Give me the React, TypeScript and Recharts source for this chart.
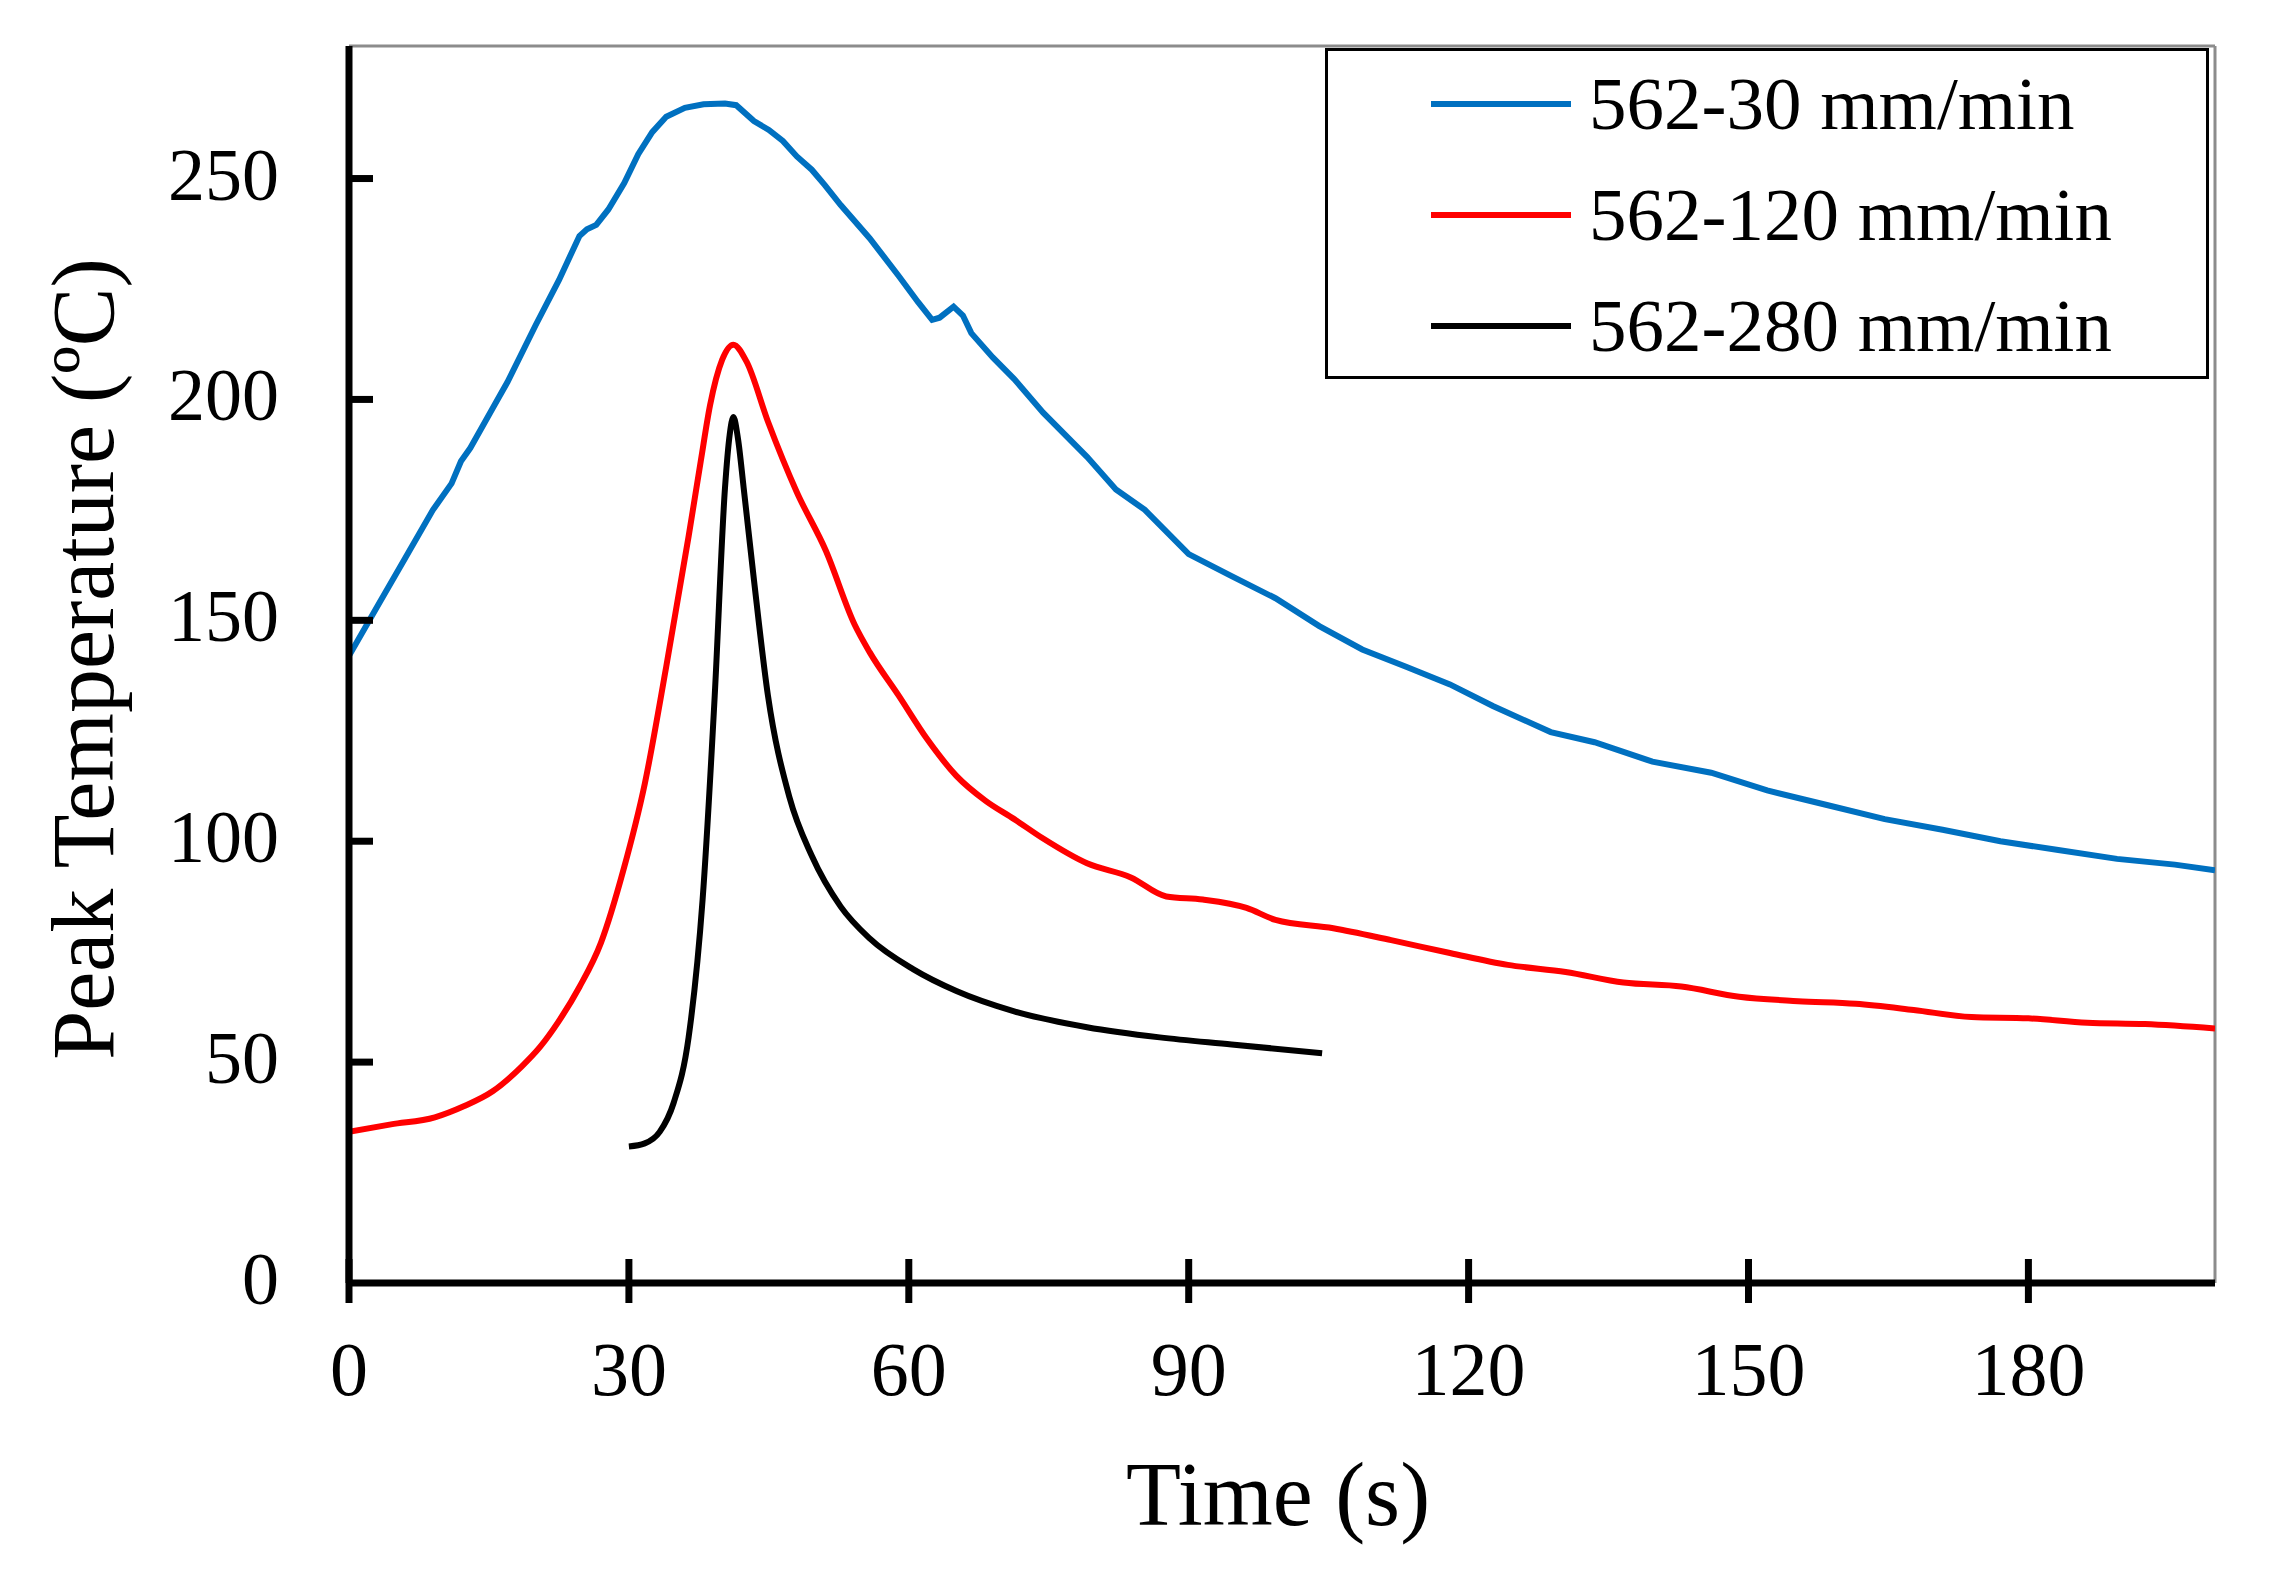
import { LineChart, Line, XAxis, YAxis, Legend, ReferenceLine, Label } from "recharts"

// Peak temperature history at three traverse speeds
const blueTime = [0, 3, 6, 9, 11, 12, 13, 15.4, 17, 20, 22.5, 24.7, 25.5, 26.5, 27.8, 29.5, 31, 32.5, 34, 36, 38, 40.3, 41.5, 43.4, 45, 46.5, 48, 49.6, 51, 52.7, 55.8, 58.9, 61, 62.5, 63.3, 64.8, 65.8, 66.7, 69, 71.3, 74.4, 79.1, 82.2, 85.3, 90, 94.6, 99.3, 104, 108.6, 113.3, 118, 122.6, 128.8, 133.5, 139.7, 146, 152, 158.4, 164.6, 170.8, 177, 183.2, 189.5, 195.7, 200]
const blueTemp = [142, 153, 164, 175, 181, 186, 189, 198, 204, 216.8, 227, 237, 238.5, 239.5, 243, 249, 255.5, 260.5, 264, 266, 266.8, 267, 266.6, 263, 261, 258.5, 255, 252, 248.5, 244, 236.5, 228, 222, 218, 218.5, 221, 219, 215, 209.5, 204.6, 197, 187, 179.6, 175, 165, 160, 155, 148.7, 143.4, 139.5, 135.5, 130.6, 124.7, 122.4, 118, 115.5, 111.5, 108.2, 105, 102.6, 100, 98, 96, 94.7, 93.4]

const redTime = [0, 4.5, 9.2, 12.3, 15.4, 18.5, 20.5, 22.4, 24.7, 27, 29.4, 31.7, 34, 36.4, 37.7, 38.7, 40, 41.2, 42.6, 44.9, 48, 51.1, 54.2, 55.8, 58.9, 62, 65.1, 68.2, 71.3, 74.4, 79.1, 83.8, 87.6, 91.5, 96.2, 99.3, 105.5, 111.7, 118, 124.2, 130.4, 136.6, 142.8, 149, 155.3, 161.5, 167.7, 173.9, 180, 186.3, 192.5, 200]
const redTemp = [34.2, 35.9, 37.5, 40, 43.4, 49, 53.5, 59, 67, 77, 93.4, 113, 139.5, 169, 186, 198.7, 209, 212.4, 208.6, 195, 179, 165.8, 149, 142.8, 133, 123, 114.8, 109.2, 105, 100.6, 95, 91.8, 87.5, 86.8, 84.9, 82.2, 80.3, 77.6, 74.7, 72, 70.4, 68, 67.1, 64.8, 63.8, 63.2, 61.8, 60.2, 59.9, 58.9, 58.6, 57.6]

const blackTime = [30, 31.7, 33.3, 34.8, 36.4, 37.9, 39.2, 40.3, 40.8, 41.2, 41.7, 42.3, 43.4, 44.9, 47.2, 49.6, 52.7, 55.8, 60.5, 65.1, 71.3, 79.1, 86.9, 94.6, 104.3]
const blackTemp = [30.9, 31.6, 34.2, 40.8, 55.6, 86.8, 133, 180, 192, 196, 191, 180, 159.2, 133, 110, 96.7, 85.2, 78, 71, 66.1, 61.5, 57.9, 55.6, 54, 52]

const seriesNames = ["562-30 mm/min", "562-120 mm/min", "562-280 mm/min"]
const seriesColors = ["#0070C0", "#FF0000", "#000000"]

const xTicks = [0, 30, 60, 90, 120, 150, 180]
const yTicks = [0, 50, 100, 150, 200, 250]

const toPoints = (times: number[], temps: number[]) => times.map((time, i) => ({ time, temp: temps[i] }))

const bluePoints = toPoints(blueTime, blueTemp)
const redPoints = toPoints(redTime, redTemp)
const blackPoints = toPoints(blackTime, blackTemp)

const FONT = '"Liberation Serif", "Times New Roman", serif'

function XTick({ x, y, payload }: any) {
  return (
    <g>
      <line x1={x} x2={x} y1={y - 24} y2={y + 20} stroke="#000" strokeWidth={7} />
      <text x={x} y={y + 112} textAnchor="middle" fontFamily={FONT} fontSize={76} fill="#000">
        {payload.value}
      </text>
    </g>
  )
}

function YTick({ x, y, payload }: any) {
  return (
    <g>
      {payload.value !== 0 && <line x1={x} x2={x + 24} y1={y} y2={y} stroke="#000" strokeWidth={7} />}
      <text x={x - 70} y={y + 21} textAnchor="end" fontFamily={FONT} fontSize={74} fill="#000">
        {payload.value}
      </text>
    </g>
  )
}

function LegendBox({ payload }: any) {
  // keep the series order instead of the default sorted order
  const items = [...(payload || [])].sort(
    (a: any, b: any) => seriesNames.indexOf(a.value) - seriesNames.indexOf(b.value)
  )
  return (
    <div
      style={{
        position: "relative",
        width: 884,
        height: 331,
        boxSizing: "border-box",
        border: "3px solid #000",
        background: "#fff",
      }}
    >
      {items.map((entry: any, i: number) => (
        <div
          key={entry.value}
          style={{ position: "absolute", left: 103, top: 53 + i * 111 - 45, height: 90, display: "flex", alignItems: "center" }}
        >
          <div style={{ width: 140, height: 6, background: entry.color }} />
          <span style={{ marginLeft: 18, fontFamily: FONT, fontSize: 75, color: "#000", whiteSpace: "nowrap", lineHeight: "90px" }}>
            {entry.value}
          </span>
        </div>
      ))}
    </div>
  )
}

export default function App() {
  return (
    <div style={{ position: "absolute", left: 0, top: 0, width: 2271, height: 1589, background: "#fff" }}>
      <LineChart width={2271} height={1589} margin={{ top: 46, right: 56, bottom: 246, left: 269 }}>
        <XAxis
          dataKey="time"
          type="number"
          domain={[0, 200]}
          ticks={xTicks}
          allowDataOverflow
          height={60}
          tickSize={0}
          tickMargin={0}
          tickLine={false}
          tick={<XTick />}
          axisLine={{ stroke: "#000", strokeWidth: 7 }}
        >
          <Label
            content={() => (
              <text x={1278} y={1525} textAnchor="middle" fontFamily={FONT} fontSize={90} fill="#000">
                Time (s)
              </text>
            )}
          />
        </XAxis>
        <YAxis
          type="number"
          domain={[0, 280]}
          ticks={yTicks}
          allowDataOverflow
          width={80}
          tickSize={0}
          tickMargin={0}
          tickLine={false}
          tick={<YTick />}
          axisLine={{ stroke: "#000", strokeWidth: 7 }}
        >
          <Label
            content={() => (
              <text
                x={113}
                y={659}
                transform="rotate(-90, 113, 659)"
                textAnchor="middle"
                fontFamily={FONT}
                fontSize={88}
                fill="#000"
              >
                Peak Temperature (ºC)
              </text>
            )}
          />
        </YAxis>
        <ReferenceLine y={280} stroke="#8c8c8c" strokeWidth={3} />
        <ReferenceLine x={200} stroke="#8c8c8c" strokeWidth={3} />
        <Line
          data={bluePoints}
          dataKey="temp"
          name={seriesNames[0]}
          stroke={seriesColors[0]}
          strokeWidth={6}
          dot={false}
          type="linear"
          isAnimationActive={false}
        />
        <Line
          data={redPoints}
          dataKey="temp"
          name={seriesNames[1]}
          stroke={seriesColors[1]}
          strokeWidth={6}
          dot={false}
          type="monotone"
          isAnimationActive={false}
        />
        <Line
          data={blackPoints}
          dataKey="temp"
          name={seriesNames[2]}
          stroke={seriesColors[2]}
          strokeWidth={6}
          dot={false}
          type="monotone"
          isAnimationActive={false}
        />
        <Legend
          layout="vertical"
          align="center"
          verticalAlign="middle"
          content={<LegendBox />}
          wrapperStyle={{ left: 1325, top: 48, width: 884, height: 331 }}
        />
      </LineChart>
    </div>
  )
}
